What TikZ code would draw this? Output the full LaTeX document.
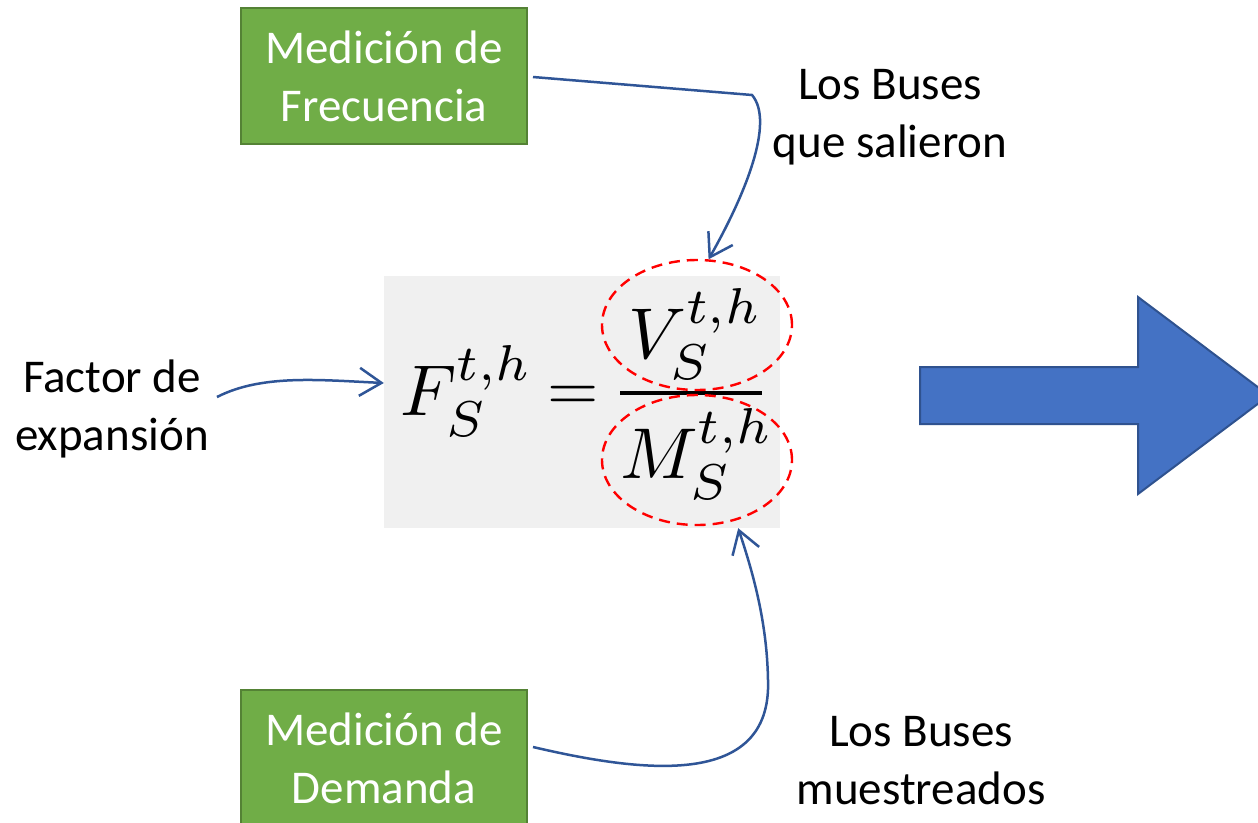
\documentclass[tikz,border=0pt]{standalone}
\usepackage[no-math]{fontspec}
\usepackage{graphicx}
\setmainfont{Carlito}
\usetikzlibrary{arrows.meta,shapes.geometric}
\definecolor{grn}{HTML}{70AD47}
\definecolor{grnborder}{HTML}{548235}
\definecolor{bigblue}{HTML}{4472C4}
\definecolor{bigblueborder}{HTML}{2F528F}
\definecolor{connblue}{HTML}{2F5597}
\definecolor{graybg}{HTML}{F0F0F0}
\definecolor{dashred}{HTML}{FF0000}
\tikzset{
  greenbox/.style={draw=grnborder, fill=grn, line width=2pt, minimum width=286pt, minimum height=136pt,
    text=white, align=center, font=\fontsize{47}{58}\selectfont, inner sep=0pt},
  lbl/.style={align=center, font=\fontsize{47}{58}\selectfont, inner sep=0pt, text=black},
  conn/.style={draw=connblue, line width=2.5pt, -{Straight Barb[length=22pt,width=28pt]}},
  dashell/.style={ellipse, draw=dashred, dashed, dash pattern=on 11pt off 7pt, line width=2.4pt,
    minimum width=190pt, minimum height=130pt, inner sep=0pt},
  mathnode/.style={inner sep=0pt}
}
\begin{document}
\begin{tikzpicture}[x=1pt,y=-1pt]
\clip (0,0) rectangle (1258,822);
\fill[white] (0,0) rectangle (1258,822);

% formula background
\node[fill=graybg, minimum width=396pt, minimum height=252pt, inner sep=0pt] (gb) at (582,402) {};

% formula parts
\node[mathnode, anchor=base west] (fF) at (400,415) {\scalebox{7.2}{$F_S^{t,h}$}};
\node[mathnode, anchor=base] (feq) at (573,410) {\scalebox{6.6}{$=$}};
\node[mathnode, anchor=base west] (fV) at (628,358) {\scalebox{7.2}{$V_S^{t,h}$}};
\node[mathnode, anchor=base west] (fM) at (620,478) {\scalebox{7.2}{$M_S^{t,h}$}};
\coordinate (barL) at (620,393);
\coordinate (barR) at (762,393);
\draw[line width=4pt] (barL) -- (barR);

% dashed ellipses
\node[dashell] (ev) at (697,325) {};
\node[dashell] (em) at (697,460) {};

% green boxes
\node[greenbox] (fq) at (384,76) {Medición de\\Frecuencia};
\node[greenbox] (dm) at (384,758) {Medición de\\Demanda};

% labels
\node[lbl] (ls) at (890,117) {Los Buses\\que salieron};
\node[lbl] (lm) at (921,761) {Los Buses\\muestreados};
\node[lbl] (fac) at (112,409) {Factor de\\expansión};

% big arrow
\draw[fill=bigblue, draw=bigblueborder, line width=2pt]
  (920,367) -- (1138,367) -- (1138,297) -- (1269,395.5) -- (1138,494) -- (1138,424) -- (920,424) -- cycle;

% connectors
\draw[conn] ([xshift=5pt,yshift=-1pt]fq.east) -- (752,95)
  .. controls (775,122) and (745,195) .. (ev.80);
\draw[conn] ([xshift=8pt,yshift=12pt]fac.east)
  .. controls (262,374) and (320,380) .. ([yshift=19pt]gb.west);
\draw[conn] ([xshift=5pt,yshift=11pt]dm.east)
  .. controls (640,772) and (772,790) .. (768,680)
  .. controls (767,620) and (752,570) .. ([xshift=-42pt]gb.south east);
\end{tikzpicture}
\end{document}
